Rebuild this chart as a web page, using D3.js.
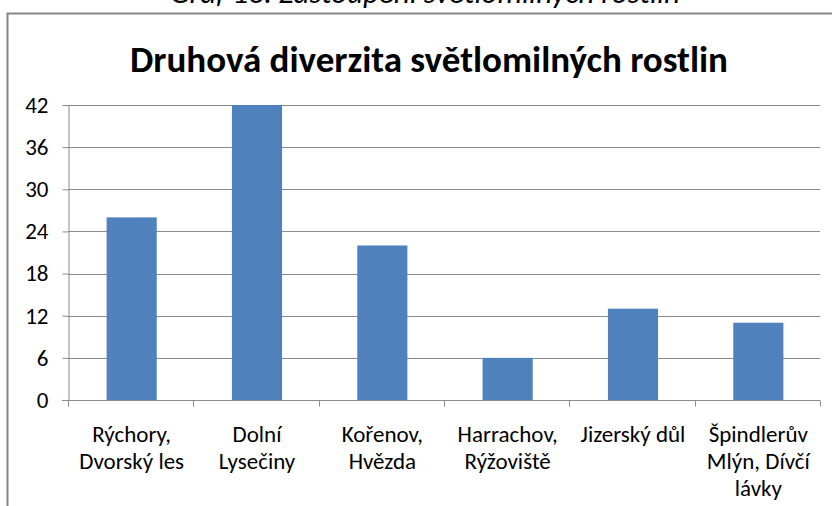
<!DOCTYPE html>
<html>
<head>
<meta charset="utf-8">
<script src="https://cdn.jsdelivr.net/npm/d3@7"></script>
<style>
  body { margin: 0; background: #fff; }
  svg { display: block; }
  text { font-family: Carlito, "Liberation Sans Narrow", "Open Sans", sans-serif; fill: #000; }
</style>
</head>
<body>
<svg></svg>
<script>
  const width = 832;
  const height = 506;

  const caption = "Graf 13: Zastoupení světlomilných rostlin";
  const title = "Druhová diverzita světlomilných rostlin";
  const categories = [
    ["Rýchory,", "Dvorský les"],
    ["Dolní", "Lysečiny"],
    ["Kořenov,", "Hvězda"],
    ["Harrachov,", "Rýžoviště"],
    ["Jizerský důl"],
    ["Špindlerův", "Mlýn, Dívčí", "lávky"]
  ];
  const values = [26, 42, 22, 6, 13, 11];
  const yTicks = [0, 6, 12, 18, 24, 30, 36, 42];

  const svg = d3.select('svg').attr('width', width).attr('height', height);

  // caption, cut off at the top of the page
  svg.append('text')
    .attr('x', 425).attr('y', 3)
    .attr('text-anchor', 'middle')
    .style('font-style', 'italic')
    .style('font-size', '31px')
    .text(caption);

  // chart frame
  svg.append('rect')
    .attr('x', 7.5).attr('y', 13.5)
    .attr('width', 840).attr('height', 520)
    .attr('fill', 'none')
    .attr('stroke', '#878787')
    .attr('stroke-width', 2);

  svg.append('text')
    .attr('x', 429).attr('y', 72)
    .attr('text-anchor', 'middle')
    .style('font-weight', 'bold')
    .style('font-size', '37px')
    .text(title);

  const x = d3.scaleBand()
    .domain(d3.range(categories.length))
    .range([68, 820])
    .paddingInner(0.6)
    .paddingOuter(0.3);

  const y = d3.scaleLinear().domain([0, 42]).range([400, 105]);

  // gridlines
  svg.append('g')
    .selectAll('line')
    .data(yTicks.slice(1))
    .enter().append('line')
      .attr('x1', 68).attr('x2', 820)
      .attr('y1', d => Math.round(y(d)) + 0.5)
      .attr('y2', d => Math.round(y(d)) + 0.5)
      .attr('stroke', '#8a8a8a');

  // bars
  svg.append('g')
    .selectAll('rect')
    .data(values)
    .enter().append('rect')
      .attr('x', (d, i) => x(i) + 1)
      .attr('y', d => y(d))
      .attr('width', x.bandwidth())
      .attr('height', d => y(0) - y(d))
      .attr('fill', '#4f81bd');

  // y axis
  const yAxis = svg.append('g')
    .attr('transform', 'translate(68.5,0)')
    .call(d3.axisLeft(y).tickValues(yTicks).tickSize(6).tickPadding(14).tickSizeOuter(0));
  yAxis.select('.domain').attr('stroke', '#8a8a8a');
  yAxis.selectAll('.tick line').attr('stroke', '#8a8a8a');
  yAxis.selectAll('.tick text').style('font-size', '23px').attr('fill', '#000');

  // x axis
  const step = (820 - 68) / categories.length;
  const xAxisG = svg.append('g').attr('transform', 'translate(0,400.5)');
  xAxisG.append('line')
    .attr('x1', 62).attr('x2', 820)
    .attr('stroke', '#8a8a8a');
  xAxisG.selectAll('.xt')
    .data(d3.range(categories.length + 1))
    .enter().append('line')
      .attr('x1', d => Math.round(68 + d * step) + 0.5)
      .attr('x2', d => Math.round(68 + d * step) + 0.5)
      .attr('y1', 0).attr('y2', 6)
      .attr('stroke', '#8a8a8a');

  const labels = svg.append('g')
    .selectAll('text')
    .data(categories)
    .enter().append('text')
      .attr('text-anchor', 'middle')
      .attr('x', (d, i) => x(i) + x.bandwidth() / 2 + 1)
      .attr('y', 442)
      .style('font-size', '23px');
  labels.selectAll('tspan')
    .data(d => d)
    .enter().append('tspan')
      .attr('x', function () { return d3.select(this.parentNode).attr('x'); })
      .attr('dy', (d, i) => i === 0 ? 0 : 27)
      .text(d => d);
</script>
</body>
</html>
